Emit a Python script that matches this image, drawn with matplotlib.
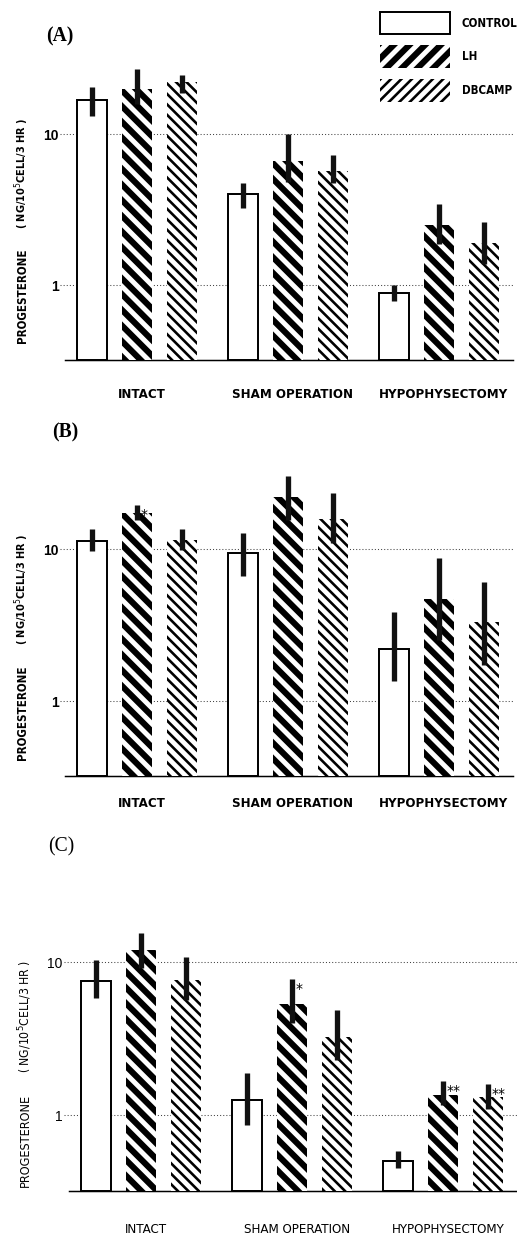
import matplotlib
matplotlib.use("Agg")
import matplotlib.pyplot as plt
from matplotlib import font_manager as fm
from matplotlib.font_manager import FontProperties
from matplotlib.patches import Patch
from matplotlib.ticker import NullLocator
import numpy as np

# groups and treatments
groups = ["INTACT", "SHAM OPERATION", "HYPOPHYSECTOMY"]
treatments = ["CONTROL", "LH", "DBCAMP"]

# progesterone, rows = treatment (control, LH, dbcAMP), cols = group
a_means = [[16.7, 4.0, 0.89], [19.8, 6.6, 2.5], [21.9, 5.7, 1.9]]
a_low = [[13.2, 3.25, 0.78], [15.7, 4.8, 1.86], [18.8, 4.7, 1.37]]
a_high = [[20.3, 4.7, 1.0], [27.0, 10.0, 3.45], [24.6, 7.2, 2.6]]

b_means = [[11.4, 9.5, 2.21], [17.3, 22.1, 4.72], [11.5, 16.0, 3.31]]
b_low = [[9.8, 6.7, 1.36], [15.6, 15.6, 2.52], [9.9, 11.0, 1.72]]
b_high = [[13.6, 12.9, 3.84], [19.6, 30.5, 8.8], [13.6, 23.7, 6.1]]

c_means = [[7.48, 1.25, 0.50], [11.9, 5.27, 1.35], [7.56, 3.23, 1.32]]
c_low = [[5.82, 0.86, 0.454], [9.1, 4.0, 1.17], [5.6, 2.3, 1.09]]
c_high = [[10.3, 1.87, 0.58], [15.5, 7.67, 1.67], [10.8, 4.86, 1.6]]

# significance marks: (treatment, group) -> text
a_marks = {}
b_marks = {(1, 0): "*"}
c_marks = {(1, 1): "*", (1, 2): "**", (2, 2): "**"}

W, H = 517, 1235
DPI = 94          # hatch cell is one inch, so dpi sets the stripe spacing
K = 83.0 / DPI    # sizes below were tuned in points at 83 dpi
fig = plt.figure(figsize=((W + 0.4) / DPI, (H + 0.4) / DPI), dpi=DPI)
fig.patch.set_facecolor("white")


# look for a narrow / condensed sans face, the original lettering is condensed
def narrow_font(bold, size):
    size = size * K
    prefs = ["Liberation Sans Narrow", "DejaVu Sans", "Roboto Condensed",
             "Open Sans Condensed", "Noto Sans"]
    found = {}
    for f in fm.fontManager.ttflist:
        cond = ("Narrow" in f.name or "Condensed" in f.name
                or f.stretch in ("condensed", "semi-condensed", "extra-condensed"))
        if not cond or f.style != "normal":
            continue
        w = f.weight if isinstance(f.weight, int) else (700 if f.weight == "bold" else 400)
        if (w >= 600) != bold:
            continue
        found.setdefault(f.name, f.fname)
    for p in prefs:
        if p in found:
            return FontProperties(fname=found[p], size=size)
    if found:
        return FontProperties(fname=sorted(found.values())[0], size=size)
    return FontProperties(family="DejaVu Sans", weight="bold" if bold else "normal",
                          stretch="condensed", size=size * 0.85)


YMIN, YMAX = 0.32, 40
offsets = [-0.298, 0.0, 0.298]
styles = [
    dict(linewidth=1.7 * K, hatch=None, hlw=1.0),
    dict(linewidth=0, hatch="\\\\", hlw=4.7),
    dict(linewidth=0, hatch="\\\\\\", hlw=2.0),
]


def add_px_axes(left, right, bottom, decade):
    height = decade * np.log10(YMAX / YMIN)
    return fig.add_axes([left / W, 1 - bottom / H, (right - left) / W, height / H])


def draw_panel(ax, means, low, high, marks, letter, letter_xy, xpad, bold):
    weight = "bold" if bold else "normal"
    ax.set_yscale("log")
    ax.set_ylim(YMIN, YMAX)
    ax.set_xlim(-0.477, 2.49)
    for s in ax.spines.values():
        s.set_visible(False)

    for v in [1, 10]:
        ax.axhline(v, xmin=-0.012, xmax=1, color="#444444", lw=0.9 * K,
                   ls=(0, (1, 2)), zorder=0.5, clip_on=False)
    ax.axhline(YMIN, color="black", lw=1.3 * K, zorder=0.6, clip_on=False)

    centers = np.arange(len(groups))
    for i, st in enumerate(styles):
        x = centers + offsets[i]
        vals = np.array(means[i])
        with plt.rc_context({"hatch.linewidth": st["hlw"]}):
            bars = ax.bar(x, vals - YMIN, bottom=YMIN, width=0.2,
                          facecolor="white", edgecolor="black",
                          linewidth=st["linewidth"], hatch=st["hatch"], zorder=2)
        for b in bars:
            b.set_clip_on(False)
            if hasattr(b, "set_hatch_linewidth"):
                b.set_hatch_linewidth(st["hlw"])
        ax.vlines(x, low[i], high[i], color="#111111", lw=4.6 * K, zorder=3,
                  capstyle="butt")

    for (i, g), txt in marks.items():
        ax.annotate(txt, (g + offsets[i], high[i][g]), xytext=(3 * K, -2 * K),
                    textcoords="offset points", ha="left", va="top",
                    fontsize=12 * K, zorder=4)

    ax.set_yticks([1, 10])
    ax.set_yticklabels(["1", "10"], fontsize=12 * K, fontweight=weight,
                       family=["Liberation Sans", "DejaVu Sans"])
    ax.yaxis.set_minor_locator(NullLocator())
    ax.tick_params(axis="y", length=0, pad=5.5 * K)
    ax.set_xticks(centers + 0.03)
    ax.set_xticklabels(groups, fontproperties=narrow_font(bold, 11.5))
    ax.tick_params(axis="x", length=0, pad=xpad * K)

    fig.text(letter_xy[0] / W, 1 - letter_xy[1] / H, letter, fontsize=17 * K,
             family=["Liberation Serif", "DejaVu Serif"],
             fontweight=weight, ha="center", va="center")


def ylabel(x, y_bottom, y_top, bold):
    s1, s2 = (10, 9.5) if bold else (11, 10.5)
    fig.text(x / W, 1 - y_bottom / H, "PROGESTERONE", rotation=90,
             rotation_mode="anchor", ha="left", va="center",
             fontproperties=narrow_font(bold, s1))
    fig.text(x / W, 1 - y_top / H, "( NG/10$^{5}$CELL/3 HR )", rotation=90,
             rotation_mode="anchor", ha="right", va="center",
             fontproperties=narrow_font(bold, s2))


ax_a = add_px_axes(65, 513, 360, 151)
draw_panel(ax_a, a_means, a_low, a_high, a_marks, "(A)", (60, 36), 24, True)
ylabel(22, 343, 118, True)

ax_b = add_px_axes(65, 513, 776, 151.4)
draw_panel(ax_b, b_means, b_low, b_high, b_marks, "(B)", (65, 432), 18, True)
ylabel(22, 760, 533, True)

ax_c = add_px_axes(69, 517, 1191, 153.3)
draw_panel(ax_c, c_means, c_low, c_high, c_marks, "(C)", (61, 847), 27, False)
ylabel(25, 1187, 960, False)

# legend with "/" stripes as in the original key
handles = []
for i, st in enumerate(styles):
    handles.append(Patch(facecolor="white", edgecolor="black",
                         linewidth=st["linewidth"],
                         hatch=st["hatch"].replace("\\", "/") if st["hatch"] else None,
                         label=treatments[i]))
leg = fig.legend(handles=handles, loc="upper left",
                 bbox_to_anchor=(380 / W, 1 - 12 / H), frameon=False,
                 borderpad=0, borderaxespad=0, handlelength=6.05,
                 handleheight=2.6, labelspacing=1.0, handletextpad=1.0,
                 prop=narrow_font(True, 10))
for p, st in zip(leg.get_patches(), styles):
    if hasattr(p, "set_hatch_linewidth"):
        p.set_hatch_linewidth(st["hlw"])

fig.savefig("out.png", dpi=DPI, facecolor="white")
